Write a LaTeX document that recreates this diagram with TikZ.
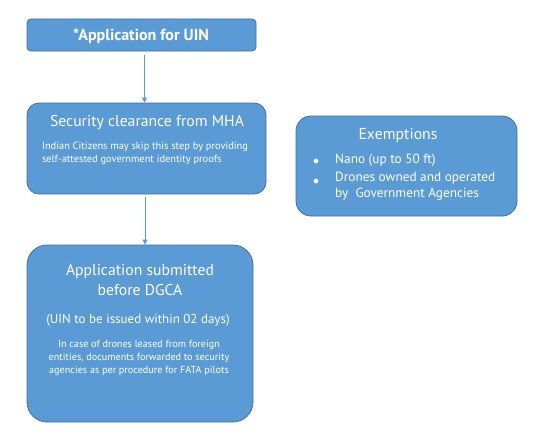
\documentclass[tikz,border=0pt]{standalone}
\usepackage{fontspec}
\setmainfont{PT Sans}
\usetikzlibrary{arrows.meta}
\definecolor{boxfill}{HTML}{5B9BD5}
\definecolor{boxline}{HTML}{41719C}

\begin{document}
\begin{tikzpicture}[x=1pt, y=-1pt,
    box/.style={draw=boxline, fill=boxfill, line width=0.8pt, inner sep=0pt},
    txt/.style={text=white, inner sep=0pt, anchor=center},
    flow/.style={draw=boxfill, line width=0.8pt, -{Triangle[width=5pt,length=5pt]}}]
      \useasboundingbox[fill=white] (0,0) rectangle (537,444);
      % boxes
      \node[box, rounded corners=4pt, minimum width=229pt, minimum height=32pt] (uin) at (141.5, 35) {};
      \node[box, rounded corners=12pt, minimum width=239pt, minimum height=91pt] (mha) at (146.5, 148.5) {};
      \node[box, rounded corners=20pt, minimum width=226pt, minimum height=177pt] (dgca) at (140, 333.5) {};
      \node[box, rounded corners=15pt, minimum width=221pt, minimum height=100pt] (exm) at (406.5, 166) {};
      % texts
      \node[txt, font=\fontsize{16}{18}\selectfont\bfseries] (uintxt) at (141, 36) {*Application for UIN};
      \node[txt, font=\fontsize{15.7}{18}\selectfont] (mhatitle) at (147, 123) {Security clearance from MHA};
      \node[txt, font=\fontsize{10.4}{13}\selectfont, align=left] (mhanote) at (145, 153.5) {Indian Citizens may skip this step by providing\\self-attested government identity proofs};
      \node[txt, font=\fontsize{15.7}{20}\selectfont, align=center] (dgcatitle) at (140, 280) {Application submitted\\before DGCA};
      \node[txt, font=\fontsize{13}{15}\selectfont] (dgcadays) at (138, 320) {(UIN to be issued within 02 days)};
      \node[txt, font=\fontsize{10.2}{13}\selectfont, align=center] (dgcanote) at (139, 358) {In case of drones leased from foreign\\entities, documents forwarded to security\\agencies as per procedure for FATA pilots};
      \node[txt, font=\fontsize{15.8}{18}\selectfont] (exmtitle) at (398, 135) {Exemptions};
      \node[txt, font=\fontsize{13.3}{16}\selectfont, anchor=north west, align=left] (exmlist) at (335, 154) {Nano (up to 50 ft)\\[2pt]Drones owned and operated\\by~ Government Agencies};
      \node[txt, font=\fontsize{12}{12}\selectfont] (dota) at (316, 162) {$\bullet$};
      \node[txt, font=\fontsize{12}{12}\selectfont] (dotb) at (316, 182) {$\bullet$};
      % connectors
      \draw[flow] (uin.south) ++(3,4) coordinate (a1) -- (a1 |- mha.north);
      \draw[flow] (mha.south) ++(-1.5,3) coordinate (a2) -- (a2 |- dgca.north);
\end{tikzpicture}
\end{document}
